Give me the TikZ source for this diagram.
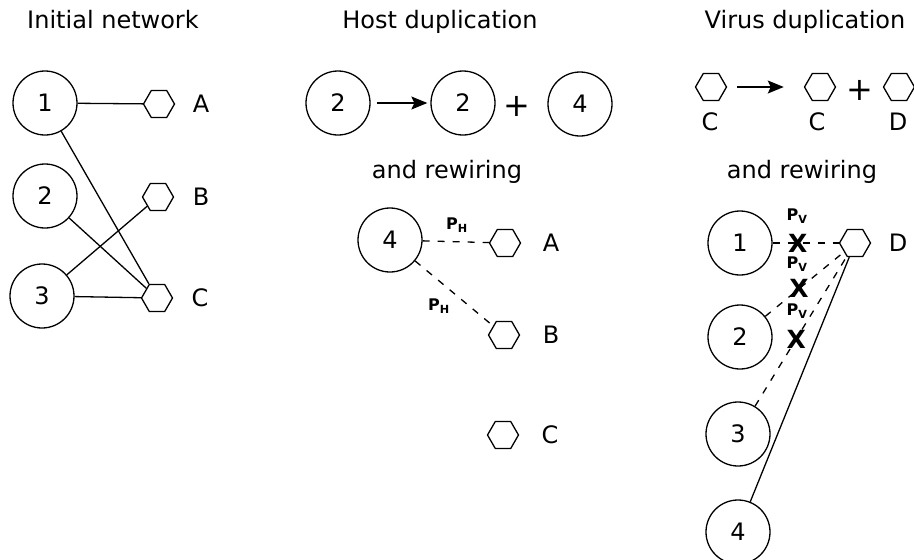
\documentclass[tikz,border=0pt]{standalone}
\usepackage{fontspec}
\setmainfont{DejaVu Sans}
\usetikzlibrary{arrows.meta,shapes.geometric}

\begin{document}
\begin{tikzpicture}[x=1pt,y=-1pt,line width=1.3pt,
  host/.style={draw,circle,minimum size=64pt,inner sep=0pt,font=\fontsize{24}{28}\selectfont},
  virus/.style={draw,regular polygon,regular polygon sides=6,minimum size=31pt,inner sep=0pt},
  lbl/.style={font=\fontsize{24}{28}\selectfont,inner sep=0pt},
  plus/.style={font=\fontsize{32}{34}\selectfont,inner sep=0pt},
  prob/.style={font=\fontsize{16}{18}\selectfont\bfseries,inner sep=0pt},
  cross/.style={font=\fontsize{25}{26}\selectfont\bfseries,inner sep=0pt},
  rewire/.style={dash pattern=on 7pt off 8pt}]
  \useasboundingbox (0,0) rectangle (914,560);
  % Panel 1: Initial network
  \node[lbl,anchor=base] (t1) at (113,28) {Initial network};
  \node[host] (n1) at (45,103) {1};
  \node[host] (n2) at (45,196) {2};
  \node[host] (n3) at (42,296) {3};
  \node[virus] (a1) at (159,104) {};
  \node[virus] (b1) at (158,197) {};
  \node[virus] (c1) at (157,298) {};
  \node[lbl] at (201,104) {A};
  \node[lbl] at (201,197) {B};
  \node[lbl] at (200,298) {C};
  \draw (n1) -- (a1);
  \draw (n1) -- (c1);
  \draw (n2) -- (c1);
  \draw (n3) -- (b1);
  \draw (n3) -- (c1);
  % Panel 2: Host duplication
  \node[lbl,anchor=base] (t2) at (440,28) {Host duplication};
  \node[host] (h2) at (338,103) {2};
  \node[host] (h2b) at (463,103) {2};
  \node[plus] (plus1) at (517,106) {+};
  \node[host] (h4) at (580,104) {4};
  \draw[-{Stealth[length=16pt,width=13pt,inset=3pt]},shorten <=6pt,shorten >=3pt] (h2) -- (h2b);
  \node[lbl,anchor=base] (r2) at (447,178) {and rewiring};
  \node[host] (h4r) at (390,240) {4};
  \node[virus] (a2) at (505,243) {};
  \node[virus] (b2) at (504,335) {};
  \node[virus] (c2) at (503,435) {};
  \node[lbl] at (551,243) {A};
  \node[lbl] at (551,335) {B};
  \node[lbl] at (550,435) {C};
  \draw[rewire] (h4r) -- (a2);
  \draw[rewire] (h4r) -- (b2);
  \node[prob] at (457,225) {P\textsubscript{H}};
  \node[prob] at (439,306) {P\textsubscript{H}};
  % Panel 3: Virus duplication
  \node[lbl,anchor=base] (t3) at (805,28) {Virus duplication};
  \node[virus] (vc) at (711,87) {};
  \node[virus] (vcb) at (820,87) {};
  \node[plus] (plus2) at (860,90) {+};
  \node[virus] (vd) at (899,87) {};
  \node[lbl] at (710,122) {C};
  \node[lbl] at (817,122) {C};
  \node[lbl] at (898,122) {D};
  \draw[-{Stealth[length=16pt,width=13pt,inset=3pt]},shorten <=10pt,shorten >=20pt] (vc) -- (vcb);
  \node[lbl,anchor=base] (r3) at (802,178) {and rewiring};
  \node[host] (v1) at (740,243) {1};
  \node[host] (v2) at (740,337) {2};
  \node[host] (v3) at (738,434) {3};
  \node[host] (v4) at (738,532) {4};
  \node[virus] (dn) at (855,243) {};
  \node[lbl] at (898,243) {D};
  \draw[rewire] (v1) -- node[cross,pos=0.38] (x1) {X} (dn);
  \draw[rewire] (v2) -- node[cross,pos=0.43] (x2) {X} (dn);
  \draw[rewire] (v3) -- node[cross,pos=0.45] (x3) {X} (dn);
  \draw (v4) -- (dn);
  \node[prob] at (797,216) {P\textsubscript{V}};
  \node[prob] at (797,264) {P\textsubscript{V}};
  \node[prob] at (797,311) {P\textsubscript{V}};
\end{tikzpicture}
\end{document}
